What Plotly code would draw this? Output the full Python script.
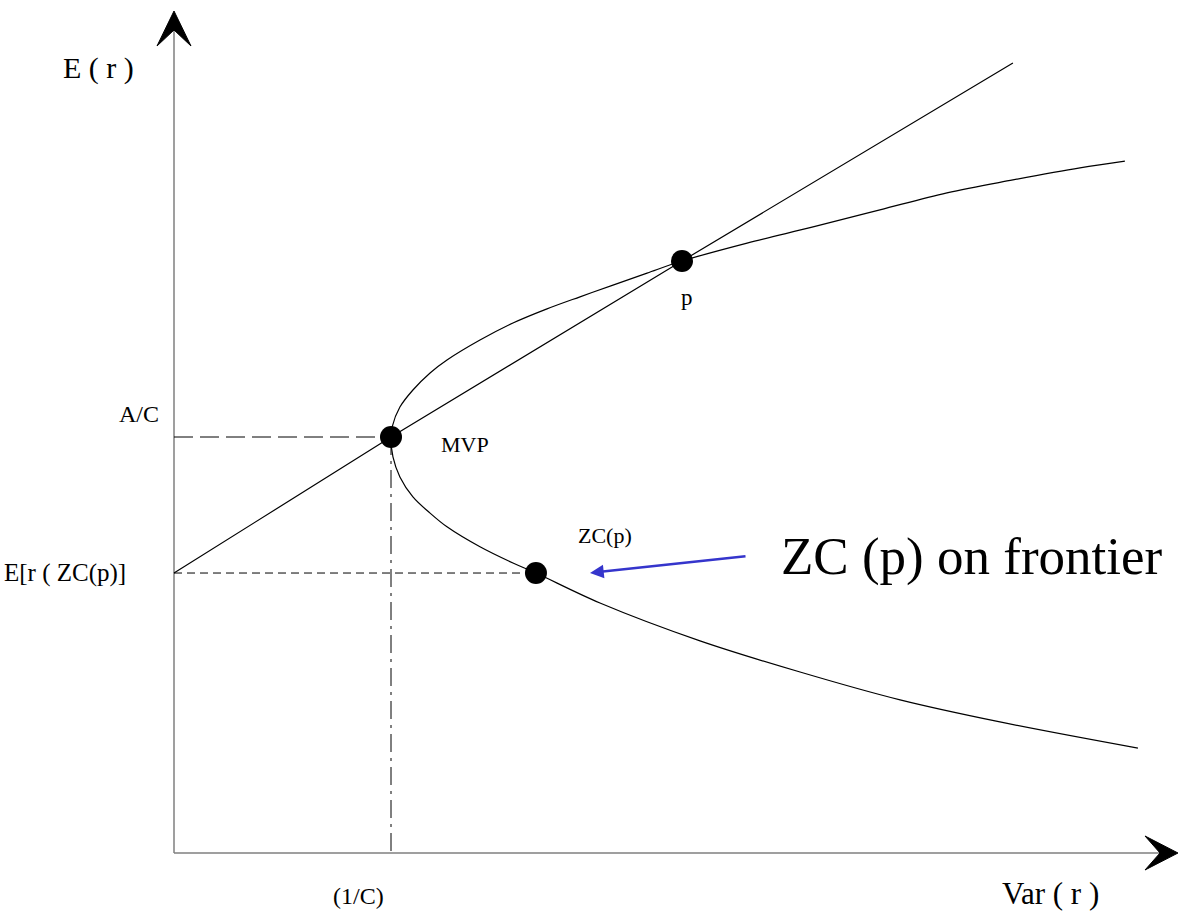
import plotly.graph_objects as go

W, H = 1179, 916

# Axis origin (pixels) and pixel size of one data unit on each axis
X0_PX, Y0_PX = 174, 853
X_UNIT, Y_UNIT = 217, 416

# ---- chart values -------------------------------------------------------
# Frontier, drawn from the upper-right end down through the MVP to the lower end
frontier_var = [4.382, 4.175, 3.866, 3.562, 3.253, 2.945, 2.641, 2.341, 2.180,
                2.023, 1.871, 1.719, 1.562, 1.410, 1.258, 1.180, 1.101, 1.041,
                1.005, 1.000, 1.009, 1.041, 1.101, 1.180, 1.258, 1.410, 1.562,
                1.668, 1.963, 2.424, 2.885, 3.346, 3.806, 4.442]
frontier_er = [1.663, 1.647, 1.618, 1.587, 1.546, 1.505, 1.466, 1.423, 1.394,
               1.365, 1.337, 1.308, 1.274, 1.233, 1.185, 1.154, 1.113, 1.072,
               1.024, 1.000, 0.952, 0.904, 0.856, 0.817, 0.784, 0.736, 0.697,
               0.673, 0.601, 0.510, 0.435, 0.368, 0.315, 0.252]

# Line from E[r(ZC(p))] on the E(r) axis through MVP and p
tangent_var = [0.0, 1.000, 2.341, 3.866]
tangent_er = [0.673, 1.000, 1.423, 1.899]

# Marked portfolios
point_names = ["MVP", "p", "ZC(p)"]
point_var = [1.000, 2.341, 1.668]
point_er = [1.000, 1.423, 0.673]

# Axis labels at the marked levels
var_ticks = [1.000]
var_tick_labels = ["(1/C)"]
er_ticks = [1.000, 0.673]
er_tick_labels = ["A/C", "E[r ( ZC(p)]"]

SERIF = "Liberation Serif, Times New Roman, serif"


def px_x(p):
    return (p - X0_PX) / X_UNIT


def px_y(p):
    return (Y0_PX - p) / Y_UNIT


fig = go.Figure()

mvp_v, mvp_e = point_var[0], point_er[0]
zc_v, zc_e = point_var[2], point_er[2]

# Guide lines from the axes to MVP and ZC(p)
fig.add_trace(go.Scatter(x=[0, mvp_v], y=[mvp_e, mvp_e], mode="lines",
                         line=dict(color="black", width=1, dash="19px,7px"),
                         hoverinfo="skip"))
fig.add_trace(go.Scatter(x=[mvp_v, mvp_v], y=[mvp_e, 0], mode="lines",
                         line=dict(color="black", width=1, dash="18px,6px,3px,6px"),
                         hoverinfo="skip"))
fig.add_trace(go.Scatter(x=[0, zc_v], y=[zc_e, zc_e], mode="lines",
                         line=dict(color="black", width=1, dash="8px,5px"),
                         hoverinfo="skip"))

# Frontier and line
fig.add_trace(go.Scatter(x=frontier_var, y=frontier_er, mode="lines",
                         line=dict(color="black", width=1.2, shape="spline", smoothing=1.0),
                         hoverinfo="skip"))
fig.add_trace(go.Scatter(x=tangent_var, y=tangent_er, mode="lines",
                         line=dict(color="black", width=1.2), hoverinfo="skip"))

# Portfolio dots
fig.add_trace(go.Scatter(x=point_var, y=point_er, mode="markers",
                         marker=dict(color="black", size=22, line=dict(width=0)),
                         text=point_names, hoverinfo="text"))

# Axes with arrowheads
axis_color = "#7f7f7f"
shapes = [
    dict(type="line", xref="x", yref="y", x0=0, y0=0, x1=0, y1=px_y(30),
         line=dict(color=axis_color, width=1.5), layer="below"),
    dict(type="line", xref="x", yref="y", x0=0, y0=0, x1=px_x(1160), y1=0,
         line=dict(color=axis_color, width=1.5), layer="below"),
]


def head_path(pts):
    return "M " + " L ".join(f"{px_x(a):.4f},{px_y(b):.4f}" for a, b in pts) + " Z"


shapes.append(dict(type="path", xref="x", yref="y",
                   path=head_path([(174, 11), (191, 46), (174, 30), (157, 46)]),
                   fillcolor="black", line=dict(color="black", width=1)))
shapes.append(dict(type="path", xref="x", yref="y",
                   path=head_path([(1178, 853), (1145, 870), (1160, 853), (1145, 836)]),
                   fillcolor="black", line=dict(color="black", width=1)))

annotations = []
# Axis titles
annotations.append(dict(x=px_x(98), y=px_y(68), xref="x", yref="y", text="E ( r )",
                        showarrow=False, font=dict(family=SERIF, size=30, color="black")))
annotations.append(dict(x=px_x(1101), y=px_y(893), xref="x", yref="y", text="Var ( r )",
                        xanchor="right", showarrow=False,
                        font=dict(family=SERIF, size=31, color="black")))

# Level labels
annotations.append(dict(x=var_ticks[0], y=0, xref="x", yref="y", text=var_tick_labels[0],
                        showarrow=False, xshift=-33, yshift=-43,
                        font=dict(family=SERIF, size=24, color="black")))
annotations.append(dict(x=0, y=er_ticks[0], xref="x", yref="y", text=er_tick_labels[0],
                        showarrow=False, xshift=-35, yshift=23,
                        font=dict(family=SERIF, size=24, color="black")))
annotations.append(dict(x=0, y=er_ticks[1], xref="x", yref="y", text=er_tick_labels[1],
                        showarrow=False, xanchor="right", xshift=-46, yshift=0,
                        font=dict(family=SERIF, size=25, color="black")))

# Point labels
label_shift = {"MVP": (74, -7), "p": (5, -36), "ZC(p)": (69, 38)}
label_size = {"MVP": 22, "p": 23, "ZC(p)": 22}
for n, v, e in zip(point_names, point_var, point_er):
    dx, dy = label_shift[n]
    annotations.append(dict(x=v, y=e, xref="x", yref="y", text=n, showarrow=False,
                            xshift=dx, yshift=dy,
                            font=dict(family=SERIF, size=label_size[n], color="black")))

# Callout
annotations.append(dict(x=px_x(972), y=px_y(556), xref="x", yref="y",
                        text="ZC (p) on frontier", showarrow=False,
                        font=dict(family=SERIF, size=53, color="black")))
annotations.append(dict(x=px_x(590), y=px_y(573), xref="x", yref="y", text="",
                        showarrow=True, ax=157, ay=-17, axref="pixel", ayref="pixel",
                        arrowhead=2, arrowsize=1.1, arrowwidth=2.5, arrowcolor="#3535cc",
                        standoff=0))

fig.update_layout(
    width=W, height=H, margin=dict(l=0, r=0, t=0, b=0),
    paper_bgcolor="white", plot_bgcolor="white", showlegend=False,
    xaxis=dict(range=[px_x(0), px_x(W)], visible=False, fixedrange=True),
    yaxis=dict(range=[px_y(H), px_y(0)], visible=False, fixedrange=True),
    shapes=shapes, annotations=annotations,
)

fig.write_html("out.html")
